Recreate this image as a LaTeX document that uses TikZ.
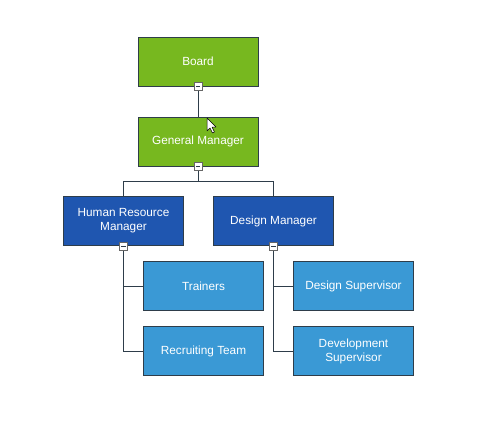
\documentclass[tikz,border=0pt]{standalone}
\usepackage{fontspec}
\setmainfont{Liberation Sans}
\definecolor{gnode}{HTML}{77B81F}
\definecolor{dbnode}{HTML}{1F56B0}
\definecolor{lbnode}{HTML}{3A99D5}
\definecolor{edge}{HTML}{2E3D4A}
\begin{document}
\begin{tikzpicture}[x=1pt,y=-1pt,
  box/.style={draw=edge, line width=1pt, minimum width=120pt, minimum height=49pt, text=white, font=\fontsize{11.8}{14}\selectfont, align=center, inner sep=0pt},
  gbox/.style={box, fill=gnode},
  dbox/.style={box, fill=dbnode},
  lbox/.style={box, fill=lbnode},
  conn/.style={draw=edge, line width=1pt},
  btn/.style={draw=gray!80!black, fill=white, line width=0.6pt, minimum size=8pt, inner sep=0pt}
]
\useasboundingbox (0,0) rectangle (480,440);
\fill[white] (0,0) rectangle (480,440);

\node[gbox] (board) at (198,61.5) {Board};
\node[gbox] (gm) at (198,141.5) {General Manager};
\node[dbox] (hr) at (123.5,221) {Human Resource\\Manager};
\node[dbox] (dm) at (273.5,221) {Design Manager};
\node[lbox] (tr) at (203.5,286) {Trainers};
\node[lbox] (rt) at (203.5,351) {Recruiting Team};
\node[lbox] (ds) at (353.5,286) {Design Supervisor};
\node[lbox] (dv) at (353.5,351) {Development\\Supervisor};

\coordinate (bus) at (198,181);
\path[conn] (board.south) -- (gm.north);
\path[conn] (gm.south) -- (bus) -| (hr.north);
\path[conn] (bus) -| (dm.north);
\path[conn] (hr.south) |- (tr.west);
\path[conn] (hr.south) |- (rt.west);
\path[conn] (dm.south) |- (ds.west);
\path[conn] (dm.south) |- (dv.west);

\foreach \n in {board,gm,hr,dm}{
  \node[btn] (b\n) at (\n.south) {};
  \draw[edge, line width=0.7pt] ([xshift=-2.2pt]b\n.center) -- ([xshift=2.2pt]b\n.center);
}

% mouse cursor
\draw[fill=white, draw=black, line width=0.5pt, line join=round]
  (207,118) -- (207,131) -- (210,128) -- (212.5,133) -- (214.5,132) -- (212,127) -- (216,127) -- cycle;
\end{tikzpicture}
\end{document}
